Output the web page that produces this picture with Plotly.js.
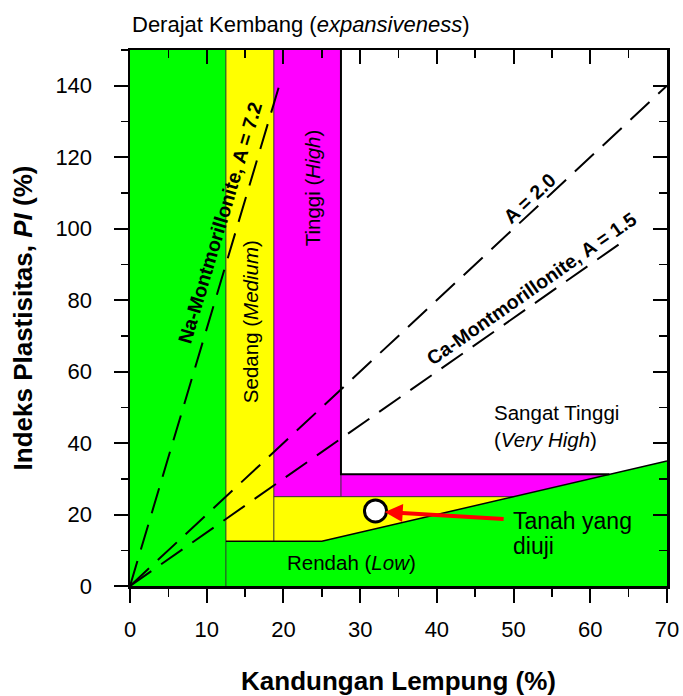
<!DOCTYPE html>
<html>
<head>
<meta charset="utf-8">
<script src="https://cdn.plot.ly/plotly-3.0.1.min.js"></script>
<style>html,body{margin:0;padding:0;background:#fff;}#chart{width:683px;height:696px;}</style>
</head>
<body>
<div id="chart"></div>
<script>
// ---- data ----
const clayBounds = [12.5, 18.75, 27.5];      // Low|Medium, Medium|High, High|VeryHigh (clay %)
const piBounds = [12.5, 25, 31.25];          // PI limits of Medium, High, Very High
const lowLineClay = [25, 70];                // lower boundary line (clay %)
const lowLinePI = [12.5, 35];                // lower boundary line (PI %)
const axisMax = [70, 150];
const activityNames = ['Na-Montmorillonite, A = 7.2', 'A = 2.0', 'Ca-Montmorillonite, A = 1.5'];
const activityA = [7.2, 2.0, 1.5];
const activityEndClay = [19.44, 70, 64];
const sampleClay = [32];
const samplePI = [21];
const xTicks = [0, 10, 20, 30, 40, 50, 60, 70];
const yTicks = [0, 20, 40, 60, 80, 100, 120, 140];

// ---- helpers ----
const slope = (lowLinePI[1] - lowLinePI[0]) / (lowLineClay[1] - lowLineClay[0]);
const xOnLine = y => lowLineClay[0] + (y - lowLinePI[0]) / slope;
const XM = axisMax[0], YM = axisMax[1];

function poly(x, y, color) {
  return {type: 'scatter', mode: 'lines', x: x, y: y, fill: 'toself', fillcolor: color,
          line: {width: 0}, hoverinfo: 'skip'};
}
const traces = [];
traces.push(poly([0, XM, XM, 0, 0], [0, 0, YM, YM, 0], '#00ff00'));
traces.push(poly([clayBounds[0], lowLineClay[0], XM, XM, clayBounds[0], clayBounds[0]],
                 [piBounds[0], piBounds[0], lowLinePI[1], YM, YM, piBounds[0]], '#ffff00'));
traces.push(poly([clayBounds[1], xOnLine(piBounds[1]), XM, XM, clayBounds[1], clayBounds[1]],
                 [piBounds[1], piBounds[1], lowLinePI[1], YM, YM, piBounds[1]], '#ff00ff'));
traces.push(poly([clayBounds[2], xOnLine(piBounds[2]), XM, XM, clayBounds[2], clayBounds[2]],
                 [piBounds[2], piBounds[2], lowLinePI[1], YM, YM, piBounds[2]], '#ffffff'));
// thin boundaries
traces.push({type: 'scatter', mode: 'lines', hoverinfo: 'skip',
  x: [clayBounds[0], clayBounds[0], null, clayBounds[1], clayBounds[1], null, clayBounds[2], clayBounds[2], null,
      clayBounds[1], xOnLine(piBounds[1])],
  y: [0, YM, null, piBounds[0], YM, null, piBounds[1], piBounds[2], null, piBounds[1], piBounds[1]],
  line: {color: '#333333', width: 1}});
// stronger boundaries
traces.push({type: 'scatter', mode: 'lines', hoverinfo: 'skip',
  x: [clayBounds[0], lowLineClay[0], lowLineClay[1]],
  y: [piBounds[0], lowLinePI[0], lowLinePI[1]],
  line: {color: '#000000', width: 1.5}});
traces.push({type: 'scatter', mode: 'lines', hoverinfo: 'skip',
  x: [clayBounds[2], clayBounds[2], xOnLine(piBounds[2])],
  y: [YM, piBounds[2], piBounds[2]],
  line: {color: '#000000', width: 2}});
// activity lines
activityA.forEach((a, i) => {
  traces.push({type: 'scatter', mode: 'lines', hoverinfo: 'skip', name: activityNames[i],
    x: [0, activityEndClay[i]], y: [0, a * activityEndClay[i]],
    line: {color: '#000000', width: 2, dash: '26px,12px'}});
});
// sample
traces.push({type: 'scatter', mode: 'markers', x: sampleClay, y: samplePI, hoverinfo: 'skip',
  marker: {size: 22, color: '#ffffff', line: {color: '#000000', width: 3}}});
// dummy for mirrored axes
traces.push({type: 'scatter', mode: 'markers', x: [0], y: [0], xaxis: 'x2', yaxis: 'y2',
  marker: {opacity: 0}, hoverinfo: 'skip'});

const F = 'Arial, "Liberation Sans", sans-serif';
const pxX = 537 / XM, pxY = 536 / YM;
const ang = a => -Math.atan(a * pxY / pxX) * 180 / Math.PI;
const LF = {size: 19.5, color: '#000'};
const RF = {size: 20.5, color: '#000'};

const ann = [
  {xref: 'paper', yref: 'paper', x: 0, y: 1, yshift: 26, xanchor: 'left', yanchor: 'middle', showarrow: false,
   text: 'Derajat Kembang (<i>expansiveness</i>)', font: {size: 22, color: '#000'}},
  {x: 11.73, y: 101.9, text: '<b>' + activityNames[0] + '</b>', textangle: ang(activityA[0]), showarrow: false, font: LF},
  {x: 52.1, y: 108.6, text: '<b>' + activityNames[1] + '</b>', textangle: ang(activityA[1]), showarrow: false, font: LF},
  {x: 52.4, y: 83.4, text: '<b>' + activityNames[2] + '</b>', textangle: ang(activityA[2]), showarrow: false, font: LF},
  {x: 15.8, y: 73.9, text: 'Sedang (<i>Medium</i>)', textangle: -90, showarrow: false, font: RF},
  {x: 23.9, y: 111.4, text: 'Tinggi (<i>High</i>)', textangle: -90, showarrow: false, font: RF},
  {x: 47.2, y: 44.9, xanchor: 'left', align: 'left', text: 'Sangat Tinggi<br>(<i>Very High</i>)', showarrow: false, font: RF},
  {x: 28.9, y: 6.7, text: 'Rendah (<i>Low</i>)', showarrow: false, font: RF},
  {x: 49.7, y: 18.2, xanchor: 'left', yanchor: 'middle', text: 'Tanah yang', showarrow: false, font: {size: 23, color: '#000'}},
  {x: 49.7, y: 11.2, xanchor: 'left', yanchor: 'middle', text: 'diuji', showarrow: false, font: {size: 23, color: '#000'}},
  {x: 33.2, y: 20.7, ax: 48.9, ay: 18.75, axref: 'x', ayref: 'y', text: '', showarrow: true,
   arrowhead: 2, arrowsize: 0.9, arrowwidth: 4, arrowcolor: '#ff0000'}
];

const layout = {
  width: 683, height: 696,
  margin: {l: 130, r: 16, t: 50, b: 110},
  paper_bgcolor: '#ffffff', plot_bgcolor: '#ffffff',
  showlegend: false, hovermode: false,
  font: {family: F, color: '#000'},
  xaxis: {range: [0, XM], tickvals: xTicks, ticks: 'outside', ticklen: 14, tickwidth: 2, tickcolor: '#000',
          minor: {dtick: 5, ticks: 'outside', ticklen: 8, tickwidth: 1.5, tickcolor: '#000'},
          showline: true, linewidth: 2.5, linecolor: '#000', showgrid: false, zeroline: false,
          tickfont: {size: 22}, ticklabelstandoff: 8, automargin: false,
          title: {text: '<b>Kandungan Lempung (%)</b>', font: {size: 26}, standoff: 32}},
  yaxis: {range: [0, YM], tickvals: yTicks, ticks: 'outside', ticklen: 14, tickwidth: 2, tickcolor: '#000',
          minor: {dtick: 10, ticks: 'outside', ticklen: 7, tickwidth: 1.5, tickcolor: '#000'},
          showline: true, linewidth: 2.5, linecolor: '#000', showgrid: false, zeroline: false,
          tickfont: {size: 22}, ticklabelstandoff: 17, automargin: false,
          title: {text: '<b>Indeks Plastisitas, <i>PI</i> (%)</b>', font: {size: 26}, standoff: 16}},
  xaxis2: {range: [0, XM], overlaying: 'x', side: 'top', anchor: 'y2', tickvals: xTicks, ticks: 'inside', ticklen: 14, tickwidth: 2, tickcolor: '#000',
           minor: {dtick: 5, ticks: 'inside', ticklen: 8, tickwidth: 1.5, tickcolor: '#000'},
           showticklabels: false, showline: true, linewidth: 2.5, linecolor: '#000', showgrid: false, zeroline: false},
  yaxis2: {range: [0, YM], overlaying: 'y', side: 'right', anchor: 'x2', tickvals: yTicks, ticks: 'inside', ticklen: 14, tickwidth: 2, tickcolor: '#000',
           minor: {dtick: 10, ticks: 'inside', ticklen: 8, tickwidth: 1.5, tickcolor: '#000'},
           showticklabels: false, showline: true, linewidth: 2.5, linecolor: '#000', showgrid: false, zeroline: false},
  annotations: ann
};
Plotly.newPlot('chart', traces, layout, {staticPlot: true, displayModeBar: false});
</script>
</body>
</html>
